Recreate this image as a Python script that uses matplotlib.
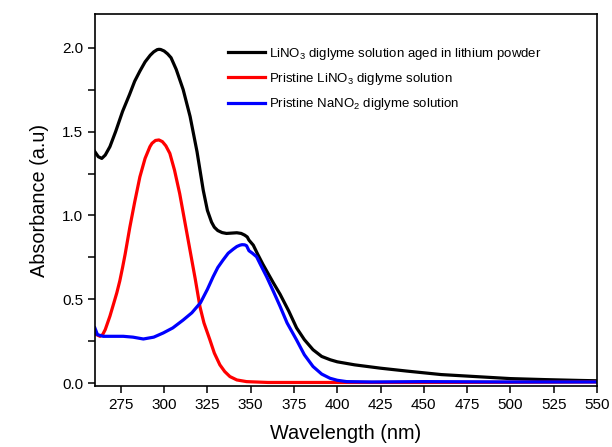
import matplotlib
matplotlib.use("Agg")
import matplotlib.pyplot as plt
from matplotlib.ticker import MultipleLocator

plt.rcParams['font.family'] = ['Liberation Sans', 'DejaVu Sans']
plt.rcParams['mathtext.fontset'] = 'custom'
plt.rcParams['mathtext.rm'] = 'Liberation Sans'
plt.rcParams['mathtext.default'] = 'regular'

# LiNO3 diglyme solution aged in lithium powder
aged_wl = [260, 262, 264, 266, 268.7, 272, 276, 280, 283, 286, 289, 292, 294, 296,
           297, 298, 300, 302, 304, 307, 311, 315, 319, 322.6, 325, 327.4, 329, 331,
           333.5, 336, 339, 342, 344.5, 346.5, 348, 349, 351.5, 354, 357, 360, 363,
           367, 372, 376.5, 381, 386, 391, 396, 400, 410, 425, 440, 460, 480, 500,
           520, 540, 550]
aged_abs = [1.38, 1.35, 1.34, 1.36, 1.41, 1.50, 1.62, 1.72, 1.80, 1.86, 1.915, 1.955,
            1.975, 1.988, 1.99, 1.989, 1.98, 1.963, 1.94, 1.87, 1.75, 1.59, 1.38, 1.15,
            1.03, 0.96, 0.93, 0.91, 0.898, 0.893, 0.895, 0.897, 0.893, 0.883, 0.872,
            0.853, 0.823, 0.77, 0.71, 0.655, 0.60, 0.53, 0.43, 0.33, 0.26, 0.20, 0.16,
            0.14, 0.128, 0.11, 0.09, 0.073, 0.052, 0.04, 0.028, 0.022, 0.017, 0.015]

# pristine LiNO3 diglyme solution
lino3_wl = [260, 261, 263, 264.5, 266, 268.7, 271, 272.7, 274.4, 276, 277.5, 280.2,
            283, 286, 289, 291.8, 293, 295, 297, 299, 301, 303.3, 306, 309, 312, 315,
            318, 320.7, 323, 326.4, 329, 332.2, 335, 338, 342, 347.6, 360, 400, 450,
            500, 550]
lino3_abs = [0.30, 0.29, 0.28, 0.29, 0.32, 0.40, 0.48, 0.54, 0.61, 0.69, 0.77, 0.93,
             1.08, 1.23, 1.34, 1.41, 1.43, 1.447, 1.45, 1.44, 1.415, 1.37, 1.27, 1.13,
             0.96, 0.79, 0.62, 0.456, 0.36, 0.26, 0.18, 0.11, 0.07, 0.04, 0.02, 0.01,
             0.005, 0.005, 0.005, 0.006, 0.008]

# pristine NaNO2 diglyme solution
nano2_wl = [260, 261.5, 264.8, 270, 276.4, 282, 288, 294, 299.5, 305, 311, 316, 321,
            325, 328.3, 331, 334, 337, 340, 342, 343.8, 345, 346.5, 347.6, 349, 351,
            353.4, 356, 359.2, 363, 366.9, 371, 376.5, 381, 386, 391, 395.8, 400,
            405.4, 420, 450, 500, 550]
nano2_abs = [0.33, 0.29, 0.28, 0.28, 0.28, 0.275, 0.264, 0.275, 0.30, 0.33, 0.377,
             0.42, 0.48, 0.56, 0.635, 0.69, 0.734, 0.775, 0.80, 0.815, 0.823, 0.826,
             0.825, 0.82, 0.79, 0.775, 0.754, 0.70, 0.635, 0.55, 0.46, 0.36, 0.258,
             0.17, 0.10, 0.055, 0.03, 0.018, 0.01, 0.008, 0.01, 0.008, 0.008]

labels = ['LiNO$_3$ diglyme solution aged in lithium powder',
          'Pristine LiNO$_3$ diglyme solution',
          'Pristine NaNO$_2$ diglyme solution']

fig = plt.figure(figsize=(6.12, 4.47), dpi=100)
ax = fig.add_axes([0.155, 0.1365, 0.8205, 0.832])

ax.plot(aged_wl, aged_abs, color='black', lw=2.3, label=labels[0])
ax.plot(lino3_wl, lino3_abs, color='#ff0000', lw=2.3, label=labels[1])
ax.plot(nano2_wl, nano2_abs, color='#0000ff', lw=2.3, label=labels[2])

ax.set_xlim(260, 550)
ax.set_ylim(-0.016, 2.2)
ax.set_xticks(range(275, 551, 25))
ax.yaxis.set_major_locator(MultipleLocator(0.5))
ax.yaxis.set_minor_locator(MultipleLocator(0.25))
ax.yaxis.set_major_formatter(plt.FormatStrFormatter('%.1f'))
ax.tick_params(direction='out', length=5, width=1.1, labelsize=11)
ax.tick_params(which='minor', direction='out', length=5, width=1.1)
for s in ax.spines.values():
    s.set_linewidth(1.2)

ax.set_xlabel('Wavelength (nm)', fontsize=14.3, labelpad=9)
ax.set_ylabel('Absorbance (a.u)', fontsize=14.3, labelpad=9)

ax.legend(loc='upper left', bbox_to_anchor=(0.265, 0.915), frameon=False,
          fontsize=9.5, handlelength=2.8, handletextpad=0.3, labelspacing=0.7,
          borderaxespad=0, borderpad=0)

fig.savefig('out.png', dpi=100)
